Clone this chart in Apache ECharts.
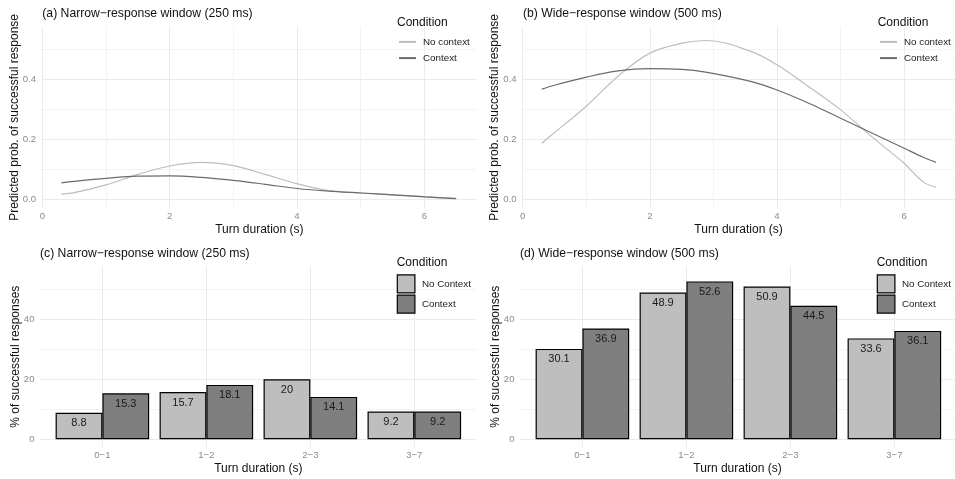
<!DOCTYPE html>
<html><head><meta charset="utf-8">
<script src="https://cdn.jsdelivr.net/npm/echarts@6/dist/echarts.min.js"></script>
<style>html,body{margin:0;padding:0;background:#fff}#c{width:955px;height:479px}</style>
</head><body><div id="c"></div>
<script>
// ---- data ----
const durNarrow = [0.3, 0.5, 1, 1.5, 2, 2.5, 3, 3.5, 4, 4.5, 5, 5.5, 6, 6.5];
const narrowNoCtx = [0.017, 0.022, 0.048, 0.083, 0.111, 0.123, 0.112, 0.083, 0.052, 0.029, 0.021, 0.015, 0.009, 0.003];
const narrowCtx   = [0.055, 0.060, 0.070, 0.077, 0.078, 0.073, 0.063, 0.050, 0.036, 0.027, 0.021, 0.015, 0.008, 0.002];
const durWide = [0.3, 0.5, 1, 1.5, 2, 2.5, 2.9, 3.6, 4, 4.5, 5, 5.5, 6, 6.3, 6.5];
const wideNoCtx = [0.187, 0.222, 0.310, 0.410, 0.487, 0.520, 0.529, 0.492, 0.448, 0.375, 0.298, 0.207, 0.120, 0.058, 0.040];
const wideCtx   = [0.367, 0.380, 0.407, 0.428, 0.435, 0.433, 0.423, 0.392, 0.364, 0.320, 0.270, 0.220, 0.170, 0.140, 0.123];
const barCats = ['0\u22121', '1\u22122', '2\u22123', '3\u22127'];
const narrowBarNoCtx = [8.8, 15.7, 20, 9.2];
const narrowBarCtx   = [15.3, 18.1, 14.1, 9.2];
const wideBarNoCtx = [30.1, 48.9, 50.9, 33.6];
const wideBarCtx   = [36.9, 52.6, 44.5, 36.1];
const lineTicksX = [0, 2, 4, 6], lineMinorX = [1, 3, 5];
const lineTicksY = [0, 0.2, 0.4], lineMinorY = [0.1, 0.3, 0.5];
const barTicksY = [0, 20, 40], barMinorY = [10, 30, 50];
const titles = ['(a) Narrow\u2212response window (250 ms)', '(b) Wide\u2212response window (500 ms)',
                '(c) Narrow\u2212response window (250 ms)', '(d) Wide\u2212response window (500 ms)'];

// ---- styling ----
const FONT = '"Liberation Sans", Arial, sans-serif';
const GRID = '#ebebeb';
const TICK = '#8c8c8c';
const LIGHT = '#bdbdbd', DARK = '#6b6b6b';
const BAR_LIGHT = '#bebebe', BAR_DARK = '#7f7f7f';

const grids = [
  {left: 41.7, top: 26.7, width: 435.3, height: 181.3},
  {left: 522, top: 26.7, width: 433, height: 181.3},
  {left: 40, top: 266.7, width: 436.7, height: 180},
  {left: 520, top: 266.7, width: 435, height: 180}
].map(g => Object.assign({outerBoundsMode: 'none', containLabel: false}, g));

const xAxes = [], yAxes = [];
function mainAxis(grid, dim, min, max, ticks, fmt, name, gap) {
  return {
    type: 'value', gridIndex: grid, min: min, max: max,
    position: dim === 'x' ? 'bottom' : 'left',
    axisLine: {show: false},
    axisTick: {show: false, customValues: ticks},
    axisLabel: {customValues: ticks, formatter: fmt, color: TICK, fontSize: 9.6, fontFamily: FONT,
                margin: dim === 'x' ? 3.5 : 5.5},
    splitLine: {show: true, lineStyle: {color: GRID, width: 1}},
    name: name, nameLocation: 'middle', nameGap: gap, nameMoveOverlap: false,
    nameTextStyle: {fontSize: 12, color: '#111', fontFamily: FONT}
  };
}
function minorAxis(grid, dim, min, max, ticks) {
  return {
    type: 'value', gridIndex: grid, min: min, max: max,
    position: dim === 'x' ? 'bottom' : 'left',
    axisLine: {show: false},
    axisTick: {show: false, customValues: ticks},
    axisLabel: {show: false},
    splitLine: {show: true, lineStyle: {color: GRID, width: 0.6}}
  };
}
const yName1 = 'Predicted prob. of successful response';
const yName2 = '% of successful responses';
const xName = 'Turn duration (s)';
// line panels
const lx = [[-0.01, 6.827], [-0.011, 6.80]];
for (let g = 0; g < 2; g++) {
  xAxes.push(mainAxis(g, 'x', lx[g][0], lx[g][1], lineTicksX, v => String(v), xName, 16));
  yAxes.push(mainAxis(g, 'y', -0.029, 0.575, lineTicksY, v => v.toFixed(1), yName1, 21));
}
for (let g = 2; g < 4; g++) {
  xAxes.push(mainAxis(g, 'x', 0.4, g === 2 ? 4.6 : 4.583, [1, 2, 3, 4], v => barCats[Math.round(v) - 1], xName, 16));
  yAxes.push(mainAxis(g, 'y', -2.5, 57.5, barTicksY, v => String(v), yName2, 18.5));
}
// minor grid axes
for (let g = 0; g < 2; g++) {
  xAxes.push(minorAxis(g, 'x', lx[g][0], lx[g][1], lineMinorX));
  yAxes.push(minorAxis(g, 'y', -0.029, 0.575, lineMinorY));
}
for (let g = 2; g < 4; g++) {
  yAxes.push(minorAxis(g, 'y', -2.5, 57.5, barMinorY));
}

function pairs(xs, ys) { return xs.map((x, i) => [x, ys[i]]); }
function lineSeries(name, g, xs, ys, color) {
  return {type: 'line', name: name, xAxisIndex: g, yAxisIndex: g, data: pairs(xs, ys),
          smooth: 0.35, symbol: 'none', lineStyle: {color: color, width: 1.2}, itemStyle: {color: color},
          silent: true, animation: false, z: 3};
}
function barSeries(name, g, vals, color) {
  return {type: 'bar', name: name, xAxisIndex: g, yAxisIndex: g,
          data: vals.map((v, i) => [i + 1, v]),
          barGap: '0%', barCategoryGap: '10%',
          itemStyle: {color: color, borderColor: '#000', borderWidth: 1.2},
          label: {show: true, position: 'insideTop', distance: 5, color: '#1a1a1a', fontSize: 11, fontFamily: FONT,
                  formatter: p => String(p.value[1])},
          silent: true, animation: false, z: 3};
}
const series = [
  lineSeries('line:No context', 0, durNarrow, narrowNoCtx, LIGHT),
  lineSeries('line:Context', 0, durNarrow, narrowCtx, DARK),
  lineSeries('line:No context', 1, durWide, wideNoCtx, LIGHT),
  lineSeries('line:Context', 1, durWide, wideCtx, DARK),
  barSeries('bar:No Context', 2, narrowBarNoCtx, BAR_LIGHT),
  barSeries('bar:Context', 2, narrowBarCtx, BAR_DARK),
  barSeries('bar:No Context', 3, wideBarNoCtx, BAR_LIGHT),
  barSeries('bar:Context', 3, wideBarCtx, BAR_DARK)
];

const titleStyle = {fontSize: 12.2, fontWeight: 'normal', color: '#111', fontFamily: FONT};
const condStyle = {fontSize: 12, fontWeight: 'normal', color: '#111', fontFamily: FONT};
const title = [
  {text: titles[0], left: 42.3, top: 8, padding: 0, textStyle: titleStyle},
  {text: titles[1], left: 523, top: 8, padding: 0, textStyle: titleStyle},
  {text: titles[2], left: 40, top: 248, padding: 0, textStyle: titleStyle},
  {text: titles[3], left: 520, top: 248, padding: 0, textStyle: titleStyle},
  {text: 'Condition', left: 397, top: 17, padding: 0, textStyle: condStyle},
  {text: 'Condition', left: 877.7, top: 17, padding: 0, textStyle: condStyle},
  {text: 'Condition', left: 396.7, top: 257, padding: 0, textStyle: condStyle},
  {text: 'Condition', left: 876.7, top: 257, padding: 0, textStyle: condStyle}
];
const legText = {fontSize: 9.8, color: '#1a1a1a', fontFamily: FONT, padding: [0, 0, 0, 2]};
const strip = n => n.replace(/^(line|bar):/, '');
function lineLegend(left) {
  return {orient: 'vertical', left: left, top: 36.3, padding: 0, itemWidth: 17, itemHeight: 14, itemGap: 5,
          data: ['line:No context', 'line:Context'], formatter: strip, textStyle: legText,
          itemStyle: {opacity: 0}, selectedMode: false};
}
function barLegend(left) {
  return {orient: 'vertical', left: left, top: 274.3, padding: 0, itemWidth: 17.6, itemHeight: 18, itemGap: 1,
          icon: 'rect', data: ['bar:No Context', 'bar:Context'], formatter: strip, textStyle: legText,
          itemStyle: {borderColor: '#000', borderWidth: 1.2}, selectedMode: false};
}
const legend = [lineLegend(398), lineLegend(879), barLegend(396.7), barLegend(876.7)];

const chart = echarts.init(document.getElementById('c'), null, {renderer: 'canvas'});
chart.setOption({
  animation: false,
  backgroundColor: '#fff',
  textStyle: {fontFamily: FONT},
  title: title, legend: legend, grid: grids, xAxis: xAxes, yAxis: yAxes, series: series
});
</script></body></html>
